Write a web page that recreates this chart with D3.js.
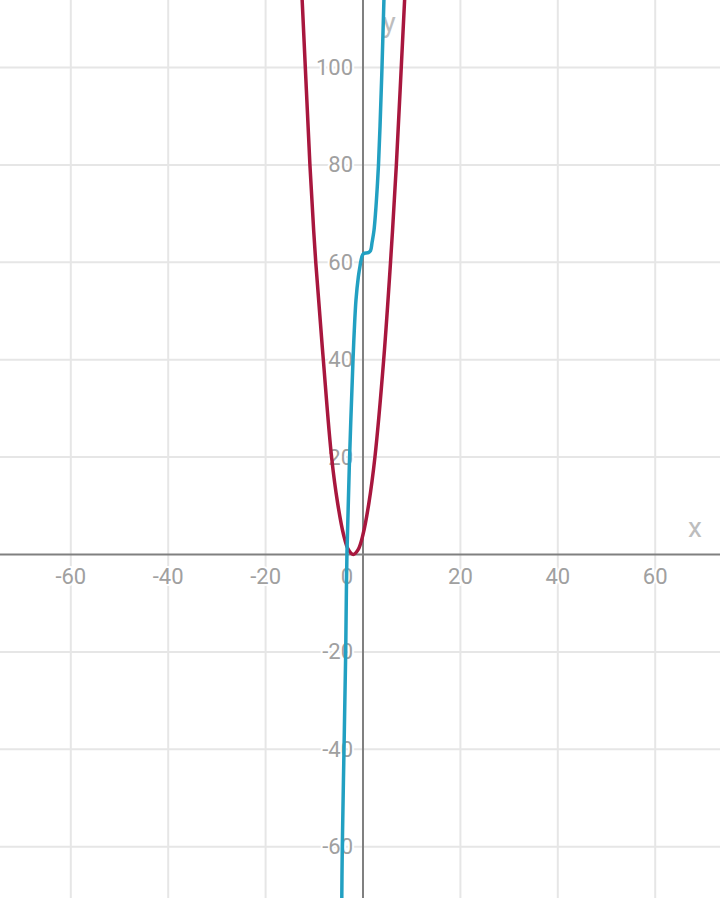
<!DOCTYPE html>
<html>
<head>
<meta charset="utf-8">
<script src="https://cdn.jsdelivr.net/npm/d3@7"></script>
<style>
  html, body { margin: 0; padding: 0; background: #fff; }
  svg { display: block; }
  text { font-family: Roboto, "Noto Sans", sans-serif; }
</style>
</head>
<body>
<svg id="chart" width="720" height="898"></svg>
<script>
// ---- data ----
const xTicks = [-60, -40, -20, 0, 20, 40, 60];
const yTicks = [-60, -40, -20, 20, 40, 60, 80, 100];
const xGrid = [-80, -60, -40, -20, 20, 40, 60];
const yGrid = [-60, -40, -20, 20, 40, 60, 80, 100];

// red curve (parabola-like, vertex near x = -2)
const redX = [-13.2, -12.5, -10.9, -9.7, -8.15, -6.45, -5.2, -4.0, -3.0, -2.0, -1.0, 0.0, 1.2, 2.45, 4.25, 5.65, 6.85, 8.55, 9.2];
const redY = [125, 114, 80, 60, 40, 20, 10.5, 4.1, 1.0, 0, 1.0, 4.1, 10.5, 20, 40, 60, 80, 114, 125];

// blue curve (steep, with a small plateau near y = 62)
const blueX = [-4.4, -4.25, -3.9, -3.55, -3.3, -2.75, -2.05, -1.79, -1.44, -0.96, -0.6, -0.27, 0.1, 1.1, 1.55, 1.85, 2.25, 2.6, 2.9, 3.18, 3.5, 3.9, 4.3, 4.5];
const blueY = [-76, -60, -40, -20, 0, 20, 40, 46, 52.3, 57, 59.3, 61.0, 61.8, 62.0, 62.4, 64, 66.5, 70.5, 75, 80, 88, 100, 114, 120];

// ---- layout ----
const W = 720, H = 898;
const pxPerUnit = 4.87;
const originX = 363, originY = 554.5;

const x = d3.scaleLinear()
  .domain([-originX / pxPerUnit, (W - originX) / pxPerUnit])
  .range([0, W]);
const y = d3.scaleLinear()
  .domain([-(H - originY) / pxPerUnit, originY / pxPerUnit])
  .range([H, 0]);

const svg = d3.select("#chart");

// grid
svg.append("g").selectAll("line").data(xGrid).join("line")
  .attr("x1", d => x(d)).attr("x2", d => x(d))
  .attr("y1", 0).attr("y2", H)
  .attr("stroke", "#e6e6e6").attr("stroke-width", 2);
svg.append("g").selectAll("line").data(yGrid).join("line")
  .attr("x1", 0).attr("x2", W)
  .attr("y1", d => y(d)).attr("y2", d => y(d))
  .attr("stroke", "#e6e6e6").attr("stroke-width", 2);

// axes
svg.append("line")
  .attr("x1", 0).attr("x2", W).attr("y1", y(0)).attr("y2", y(0))
  .attr("stroke", "#808080").attr("stroke-width", 2);
svg.append("line")
  .attr("x1", x(0)).attr("x2", x(0)).attr("y1", 0).attr("y2", H)
  .attr("stroke", "#808080").attr("stroke-width", 2);

// tick labels
const labelStyle = sel => sel
  .attr("fill", "#a0a0a0")
  .attr("font-size", 22)
  .attr("stroke", "#fff").attr("stroke-width", 4)
  .attr("paint-order", "stroke")
  .attr("stroke-linejoin", "round");

svg.append("g").selectAll("text").data(xTicks).join("text")
  .attr("x", d => d === 0 ? x(0) - 16 : x(d))
  .attr("y", y(0) + 22)
  .attr("text-anchor", "middle")
  .attr("dominant-baseline", "central")
  .text(d => String(d))
  .call(labelStyle);

svg.append("g").selectAll("text").data(yTicks).join("text")
  .attr("x", x(0) - 10)
  .attr("y", d => y(d))
  .attr("text-anchor", "end")
  .attr("dominant-baseline", "central")
  .text(d => String(d))
  .call(labelStyle);

// axis names
svg.append("text")
  .attr("x", W - 25).attr("y", y(0) - 27)
  .attr("text-anchor", "middle").attr("dominant-baseline", "central")
  .attr("font-size", 28).attr("fill", "#bdbdbd")
  .text("x");
svg.append("text")
  .attr("x", x(0) + 26).attr("y", 22)
  .attr("text-anchor", "middle").attr("dominant-baseline", "central")
  .attr("font-size", 28).attr("fill", "#bdbdbd")
  .text("y");

// curves
const redPts = redX.map((v, i) => [v, redY[i]]);
const bluePts = blueX.map((v, i) => [v, blueY[i]]);
const line = d3.line().x(d => x(d[0])).y(d => y(d[1])).curve(d3.curveCatmullRom.alpha(0.5));

svg.append("path").datum(redPts)
  .attr("d", line).attr("fill", "none")
  .attr("stroke", "#a8173e").attr("stroke-width", 3.5)
  .attr("stroke-linejoin", "round");
svg.append("path").datum(bluePts)
  .attr("d", line).attr("fill", "none")
  .attr("stroke", "#22a0c2").attr("stroke-width", 3.5)
  .attr("stroke-linejoin", "round");
</script>
</body>
</html>
